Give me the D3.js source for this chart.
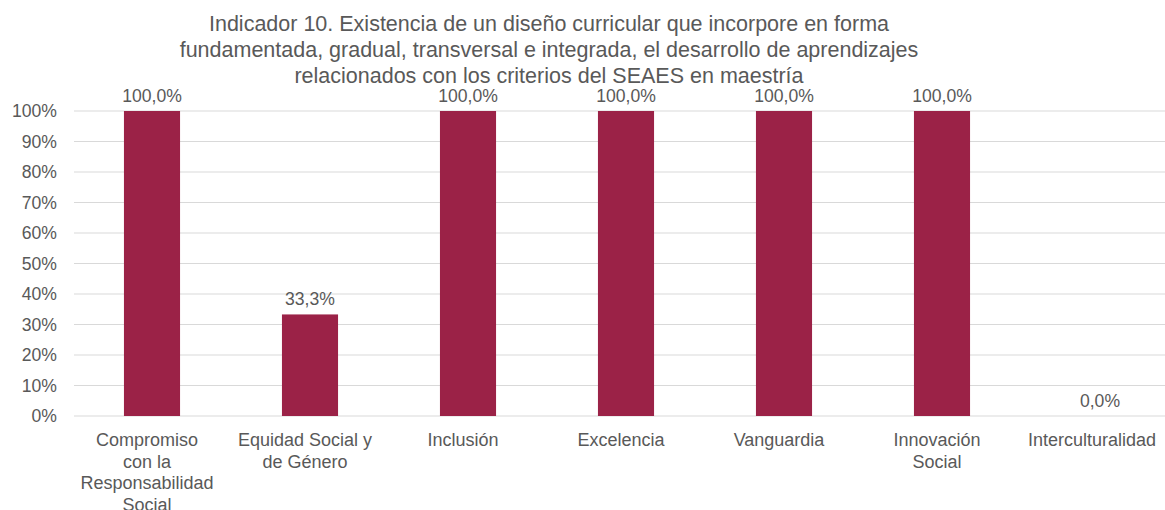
<!DOCTYPE html>
<html><head><meta charset="utf-8">
<script src="https://cdn.jsdelivr.net/npm/d3@7"></script>
<style>body{margin:0;background:#fff;}svg{display:block;font-family:"Liberation Sans",Arial,sans-serif;}</style>
</head><body><svg id="c" width="1165" height="510"></svg>
<script>
const categories = [["Compromiso","con la","Responsabilidad","Social"],["Equidad Social y","de Género"],["Inclusión"],["Excelencia"],["Vanguardia"],["Innovación","Social"],["Interculturalidad"]];
const values = [1.0, 0.333, 1.0, 1.0, 1.0, 1.0, 0.0];
const valueLabels = ["100,0%","33,3%","100,0%","100,0%","100,0%","100,0%","0,0%"];
const yTicks = [0,0.1,0.2,0.3,0.4,0.5,0.6,0.7,0.8,0.9,1.0];
const titleLines = ["Indicador 10. Existencia de un diseño curricular que incorpore en forma","fundamentada, gradual, transversal e integrada, el desarrollo de aprendizajes","relacionados con los criterios del SEAES en maestría"];

const svg = d3.select("#c");
const txt = "#595959";
const x = d3.scaleBand().domain(d3.range(categories.length)).range([73,1179]).padding(0);
const y = d3.scaleLinear().domain([0,1]).range([416,111]);

svg.append("g").selectAll("line").data(yTicks).join("line")
  .attr("x1",74).attr("x2",1165).attr("y1",d=>y(d)).attr("y2",d=>y(d))
  .attr("stroke","#d9d9d9").attr("stroke-width",1);
svg.append("g").selectAll("text").data(yTicks).join("text")
  .attr("x",57).attr("y",d=>y(d)+6).attr("text-anchor","end")
  .attr("font-size",17.6).attr("fill",txt).text(d=>Math.round(d*100)+"%");

const bw = x.step()*0.355;
svg.append("g").selectAll("rect").data(values).join("rect")
  .attr("x",(d,i)=>x(i)+x.bandwidth()/2-bw/2).attr("width",bw)
  .attr("y",d=>y(d)).attr("height",d=>y(0)-y(d)).attr("fill","#9b2247");

svg.append("g").selectAll("text").data(values).join("text")
  .attr("x",(d,i)=>x(i)+x.bandwidth()/2).attr("y",d=>y(d)-9)
  .attr("text-anchor","middle").attr("font-size",17.6).attr("fill",txt)
  .text((d,i)=>valueLabels[i]);

const cat = svg.append("g").selectAll("text").data(categories).join("text")
  .attr("y",446).attr("text-anchor","middle").attr("font-size",18).attr("fill",txt);
cat.selectAll("tspan").data(d=>d).join("tspan")
  .attr("dy",(d,i)=>i===0?0:21.5).text(d=>d);
cat.each(function(d,i){
  const t = d3.select(this);
  let maxW = 0;
  t.selectAll("tspan").each(function(){maxW=Math.max(maxW,this.getComputedTextLength());});
  let cx = x(i)+x.bandwidth()/2-5;
  if (cx+maxW/2>1156) cx = 1156-maxW/2;
  t.attr("x",cx); t.selectAll("tspan").attr("x",cx);
});

svg.append("g").selectAll("text").data(titleLines).join("text")
  .attr("x",549).attr("y",(d,i)=>31+i*26).attr("text-anchor","middle")
  .attr("font-size",21.5).attr("fill",txt).text(d=>d);
</script></body></html>
